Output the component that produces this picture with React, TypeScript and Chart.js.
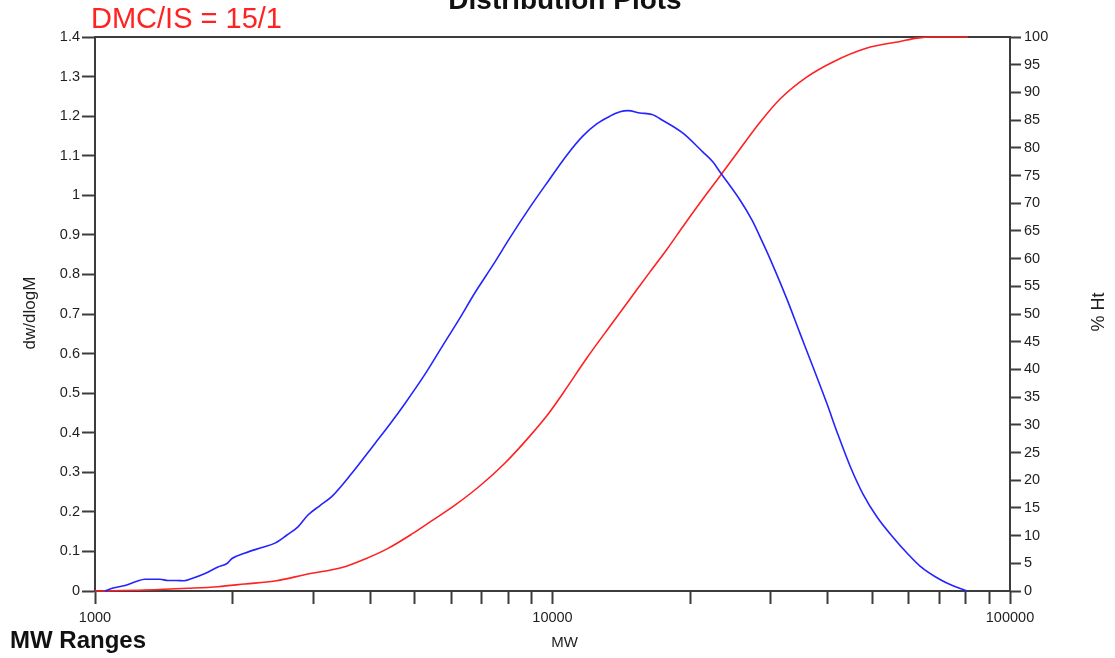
import React, { useEffect, useRef } from "react";
import { Chart, registerables } from "chart.js";

Chart.register(...registerables);

const FONT = '"Liberation Sans", Arial, Helvetica, sans-serif';
const AXIS_COLOR = "#3c3c3c";
const TEXT_COLOR = "#1e1e1e";
const TICK_SIZE = 14.5;

// dw/dlogM distribution (left axis)
const blueMW = [
  1052, 1095, 1163, 1230, 1286, 1387, 1444, 1503, 1565, 1629, 1740, 1857, 1943, 1993,
  2128, 2317, 2474, 2628, 2778, 2921, 3103, 3296, 3646, 4093, 4414, 4760, 5265, 5733,
  6215, 6805, 7414, 8075, 8930, 9776, 10757, 11659, 12513, 13356, 14046, 14624, 15535,
  16500, 17440, 19284, 21327, 22428, 23231, 25695, 27298, 28707, 30188, 32556, 34755,
  37104, 39811, 41865, 44703, 47726, 51205, 55493, 59537, 63577, 70307, 75061, 80541,
];
const blueValues = [
  0, 0.0076, 0.0139, 0.024, 0.0296, 0.0296, 0.0265, 0.0265, 0.0258, 0.0316, 0.0442, 0.0607, 0.0695, 0.0821,
  0.096, 0.11, 0.121, 0.1415, 0.162, 0.192, 0.216, 0.239, 0.298, 0.373, 0.422, 0.474, 0.548, 0.617,
  0.682, 0.758, 0.824, 0.893, 0.97, 1.035, 1.102, 1.15, 1.181, 1.2, 1.211, 1.214, 1.208,
  1.204, 1.189, 1.157, 1.109, 1.084, 1.059, 0.988, 0.937, 0.884, 0.828, 0.737, 0.651,
  0.566, 0.473, 0.402, 0.316, 0.245, 0.187, 0.136, 0.096, 0.063, 0.029, 0.013, 0,
];

// Cumulative % Ht (right axis)
const redMW = [
  1000, 1286, 1597, 1857, 2128, 2474, 2921, 3467, 3893, 4370, 4931, 5453, 6122, 6943,
  7874, 8930, 9776, 10543, 11897, 13356, 14772, 16334, 17794, 19284, 21327, 23000, 25695,
  28420, 31427, 36001, 41030, 48696, 57488, 62625, 67868, 80948,
];
const redValues = [
  0, 0.18, 0.49, 0.78, 1.26, 1.8, 3.07, 4.24, 5.78, 7.7, 10.3, 12.7, 15.5, 19.0,
  23.1, 28.0, 31.9, 35.7, 42.1, 47.8, 52.7, 57.6, 61.7, 65.8, 70.8, 74.4, 79.8,
  84.6, 88.8, 92.8, 95.5, 98.0, 99.2, 99.8, 100, 100,
];

const xTicks = [
  1000, 2000, 3000, 4000, 5000, 6000, 7000, 8000, 9000,
  10000, 20000, 30000, 40000, 50000, 60000, 70000, 80000, 90000, 100000,
];
const xLabelled = [1000, 10000, 100000];

const titleText = "Distribution Plots";
const sampleText = "DMC/IS = 15/1";
const rangesText = "MW Ranges";
const xTitle = "MW";
const yTitle = "dw/dlogM";
const y1Title = "% Ht";

const annotations = {
  id: "annotations",
  beforeDatasetsDraw(chart: any) {
    const { ctx, chartArea } = chart;
    ctx.save();
    // top frame line
    ctx.strokeStyle = AXIS_COLOR;
    ctx.lineWidth = 2;
    ctx.beginPath();
    ctx.moveTo(chartArea.left, chartArea.top);
    ctx.lineTo(chartArea.right, chartArea.top);
    ctx.stroke();
    ctx.restore();
  },
  afterDraw(chart: any) {
    const { ctx, chartArea } = chart;
    ctx.save();
    ctx.textBaseline = "alphabetic";

    ctx.fillStyle = "#111";
    ctx.font = `bold 28px ${FONT}`;
    ctx.textAlign = "center";
    ctx.fillText(titleText, 565, 9);

    ctx.fillStyle = "#ff2222";
    ctx.font = `29px ${FONT}`;
    ctx.textAlign = "left";
    ctx.fillText(sampleText, 91, 28);

    ctx.fillStyle = "#111";
    ctx.font = `bold 24px ${FONT}`;
    ctx.fillText(rangesText, 10, 648);

    ctx.fillStyle = TEXT_COLOR;
    ctx.font = `15px ${FONT}`;
    ctx.textAlign = "center";
    ctx.fillText(xTitle, (chartArea.left + chartArea.right) / 2 + 12, 647);

    ctx.textBaseline = "middle";
    ctx.save();
    ctx.translate(30, 313);
    ctx.rotate(-Math.PI / 2);
    ctx.font = `17px ${FONT}`;
    ctx.fillText(yTitle, 0, 0);
    ctx.restore();

    ctx.save();
    ctx.translate(1099, 312);
    ctx.rotate(-Math.PI / 2);
    ctx.font = `18px ${FONT}`;
    ctx.fillText(y1Title, 0, 0);
    ctx.restore();

    ctx.restore();
  },
};

export default function App() {
  const canvasRef = useRef<HTMLCanvasElement | null>(null);

  useEffect(() => {
    if (!canvasRef.current) return;
    const chart = new Chart(canvasRef.current, {
      type: "line",
      data: {
        datasets: [
          {
            label: "dw/dlogM",
            data: blueMW.map((m, i) => ({ x: m, y: blueValues[i] })),
            borderColor: "#2424ff",
            borderWidth: 1.6,
            pointRadius: 0,
            cubicInterpolationMode: "monotone",
            yAxisID: "y",
            clip: 4,
          },
          {
            label: "% Ht",
            data: redMW.map((m, i) => ({ x: m, y: redValues[i] })),
            borderColor: "#ff2222",
            borderWidth: 1.6,
            pointRadius: 0,
            cubicInterpolationMode: "monotone",
            yAxisID: "y1",
            clip: 4,
          },
        ],
      },
      options: {
        animation: false,
        responsive: false,
        devicePixelRatio: 1,
        layout: { padding: { top: 37, left: 0, right: 0, bottom: 0 } },
        plugins: {
          legend: { display: false },
          title: { display: false },
          tooltip: { enabled: false },
        },
        scales: {
          x: {
            type: "logarithmic",
            min: 1000,
            max: 100000,
            afterBuildTicks(scale: any) {
              scale.ticks = xTicks.map((v) => ({ value: v }));
            },
            afterFit(scale: any) {
              scale.height = 67;
            },
            grid: {
              drawOnChartArea: false,
              drawTicks: true,
              tickLength: 13,
              tickColor: AXIS_COLOR,
              tickWidth: 2,
            },
            border: { display: true, color: AXIS_COLOR, width: 2 },
            ticks: {
              autoSkip: false,
              maxRotation: 0,
              padding: 5,
              color: TEXT_COLOR,
              font: { family: FONT, size: TICK_SIZE },
              callback: (v: any) => (xLabelled.includes(Number(v)) ? String(v) : ""),
            },
          },
          y: {
            position: "left",
            min: 0,
            max: 1.4,
            afterFit(scale: any) {
              scale.width = 95;
            },
            grid: {
              drawOnChartArea: false,
              drawTicks: true,
              tickLength: 13,
              tickColor: AXIS_COLOR,
              tickWidth: 2,
            },
            border: { display: true, color: AXIS_COLOR, width: 2 },
            ticks: {
              stepSize: 0.1,
              autoSkip: false,
              padding: 2,
              color: TEXT_COLOR,
              font: { family: FONT, size: TICK_SIZE },
              callback: (v: any) => String(Math.round(Number(v) * 10) / 10),
            },
          },
          y1: {
            position: "right",
            min: 0,
            max: 100,
            afterFit(scale: any) {
              scale.width = 105;
            },
            grid: {
              drawOnChartArea: false,
              drawTicks: true,
              tickLength: 11,
              tickColor: AXIS_COLOR,
              tickWidth: 2,
            },
            border: { display: true, color: AXIS_COLOR, width: 2 },
            ticks: {
              stepSize: 5,
              autoSkip: false,
              padding: 3,
              color: TEXT_COLOR,
              font: { family: FONT, size: TICK_SIZE },
            },
          },
        },
      },
      plugins: [annotations],
    } as any);
    return () => chart.destroy();
  }, []);

  return (
    <div style={{ position: "absolute", left: 0, top: 0, width: 1115, height: 658, background: "#fff" }}>
      <canvas ref={canvasRef} width={1115} height={658} style={{ display: "block" }} />
    </div>
  );
}
